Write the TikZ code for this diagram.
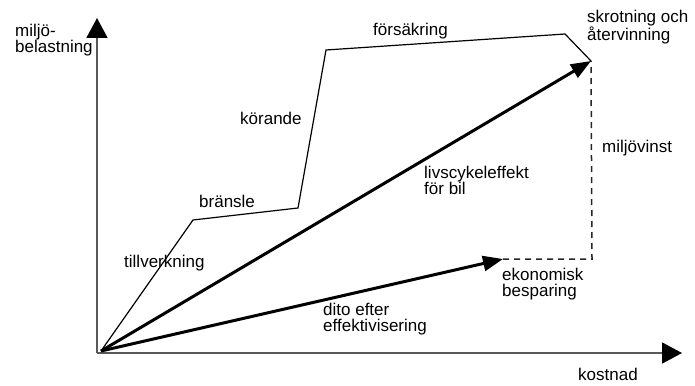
\documentclass[tikz,border=0pt]{standalone}
\usepackage{fontspec}
\setmainfont{Liberation Sans}
\usetikzlibrary{arrows.meta,positioning}

\begin{document}
\begin{tikzpicture}[
    x=1pt, y=-1pt,
    lbl/.style={align=left, inner sep=0pt, anchor=west, font=\fontsize{17}{16}\selectfont},
    axis/.style={-{Triangle[length=20pt, width=21pt, color=black]}, line width=1.8pt, gray!70!black},
    curve/.style={line width=1.2pt, line join=miter},
    bigarrow/.style={-{Triangle[length=20pt, width=15pt]}, line width=3pt},
    gain/.style={dashed, dash pattern=on 6pt off 5pt, line width=1.5pt, black!85}
]
\useasboundingbox (0,0) rectangle (695,385);

% axes
\coordinate (corner) at (97,353);
\coordinate (ytop) at (97,18);
\coordinate (xend) at (682,353);
\draw[axis] (corner) -- (ytop);
\draw[axis] (corner) -- (xend);

% life cycle steps
\coordinate (O) at (101,351);
\coordinate (tv) at (193,220);
\coordinate (br) at (298,208);
\coordinate (ko) at (326,50);
\coordinate (fs) at (565,34);
\coordinate (sk) at (591,61);
\draw[curve] (O) -- (tv) -- (br) -- (ko) -- (fs) -- (sk);

% arrows
\coordinate (eff) at (503,259);
\coordinate (gap) at (592,259);
\draw[bigarrow] (O) -- (sk);
\draw[bigarrow] (O) -- (eff);
\draw[gain] (eff) -- (gap) -- (sk);

% labels
\node[lbl] (ylabel) at (15,40) {miljö-\\belastning};
\node[lbl] (xlabel) at (578,374) {kostnad};
\node[lbl] (tillv) at (124,263) {tillverkning};
\node[lbl] (bransle) at (199,201) {bränsle};
\node[lbl] (korande) at (240,118) {körande};
\node[lbl] (forsakr) at (373,31) {försäkring};
\node[lbl] (skrot) at (587,27) {skrotning och\\återvinning};
\node[lbl] (vinst) at (602,148) {miljövinst};
\node[lbl] (livs) at (424,180) {livscykeleffekt\\för bil};
\node[lbl] (besp) at (502,284) {ekonomisk\\besparing};
\node[lbl] (dito) at (323,319) {dito efter\\effektivisering};
\end{tikzpicture}
\end{document}
